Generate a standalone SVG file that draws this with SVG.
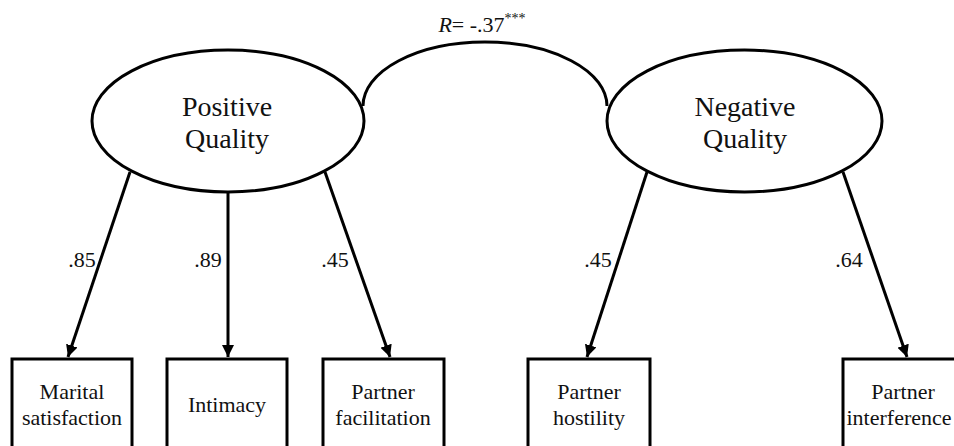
<svg xmlns="http://www.w3.org/2000/svg" width="954" height="446" viewBox="0 0 954 446">
<style>
text{font-family:"Times New Roman","Liberation Serif","DejaVu Serif",serif;fill:#111;text-anchor:middle}
.lat{font-size:28px}
.obs{font-size:22px}
.lbl{font-size:22px}
.shape{fill:#fff;stroke:#000;stroke-width:3}
.conn{fill:none;stroke:#000;stroke-width:3}
</style>
<defs>
<marker id="arr" viewBox="0 0 10 10" refX="10" refY="5" markerWidth="4" markerHeight="4" orient="auto" markerUnits="strokeWidth">
<path d="M0,0 L10,5 L0,10 z" fill="#000"/>
</marker>
</defs>
<g id="connectors">
<path class="conn" d="M363,106 A122,64 0 0 1 607,106"/>
<line class="conn" x1="130" y1="172" x2="68" y2="357" marker-end="url(#arr)"/>
<line class="conn" x1="228" y1="192" x2="228" y2="357" marker-end="url(#arr)"/>
<line class="conn" x1="325" y1="172" x2="390" y2="357" marker-end="url(#arr)"/>
<line class="conn" x1="647" y1="172" x2="587" y2="357" marker-end="url(#arr)"/>
<line class="conn" x1="843" y1="172" x2="907" y2="357" marker-end="url(#arr)"/>
<text class="lbl" x="482" y="32" font-family="Liberation Serif, serif"><tspan font-style="italic">R</tspan>= -.37<tspan font-size="14" dy="-9">***</tspan></text>
<text class="lbl" x="82" y="267" font-family="Liberation Serif, serif">.85</text>
<text class="lbl" x="208" y="267" font-family="Liberation Serif, serif">.89</text>
<text class="lbl" x="335" y="267" font-family="Liberation Serif, serif">.45</text>
<text class="lbl" x="598" y="267" font-family="Liberation Serif, serif">.45</text>
<text class="lbl" x="849" y="267" font-family="Liberation Serif, serif">.64</text>
</g>
<g id="positive" font-family="Liberation Serif, serif">
<ellipse class="shape" cx="228" cy="121" rx="136" ry="71"/>
<text class="lat" x="227" y="116">Positive</text>
<text class="lat" x="227" y="148">Quality</text>
</g>
<g id="negative" font-family="Liberation Serif, serif">
<ellipse class="shape" cx="744.5" cy="121" rx="137.5" ry="71"/>
<text class="lat" x="745" y="116">Negative</text>
<text class="lat" x="745" y="148">Quality</text>
</g>
<g id="marital">
<rect class="shape" x="12" y="359" width="120" height="100"/>
<text class="obs" x="72" y="399">Marital</text>
<text class="obs" x="72" y="425">satisfaction</text>
</g>
<g id="intimacy">
<rect class="shape" x="167" y="359" width="120" height="100"/>
<text class="obs" x="227" y="412">Intimacy</text>
</g>
<g id="facilitation">
<rect class="shape" x="323" y="359" width="121" height="100"/>
<text class="obs" x="383" y="399">Partner</text>
<text class="obs" x="383" y="425">facilitation</text>
</g>
<g id="hostility">
<rect class="shape" x="528" y="359" width="122" height="100"/>
<text class="obs" x="589" y="399">Partner</text>
<text class="obs" x="589" y="425">hostility</text>
</g>
<g id="interference">
<rect class="shape" x="843" y="359" width="122" height="100"/>
<text class="obs" x="903" y="399">Partner</text>
<text class="obs" x="899" y="425">interference</text>
</g>
</svg>
